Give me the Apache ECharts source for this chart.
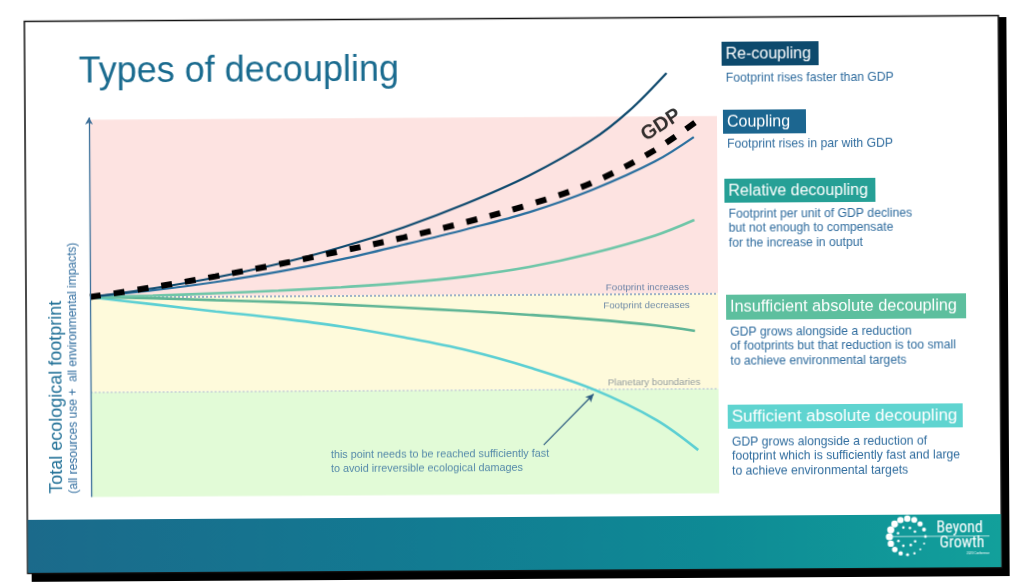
<!DOCTYPE html>
<html><head><meta charset="utf-8">
<script src="https://cdn.jsdelivr.net/npm/echarts@6/dist/echarts.min.js"></script>
<style>
html,body{margin:0;padding:0;background:#fff;overflow:hidden}
#c{width:1024px;height:587px;transform:rotate(-0.34deg);transform-origin:512px 293px;}
</style>
</head><body><div id="c"></div>
<script>
// ---- data (x: 0..100 along GDP/time axis, y: 0..100 footprint) ----
const recouplingX = [0,10,20,30,40,50,60,70,80,86,92];
const recouplingY = [53,55.2,58,61.5,65.8,71,77.2,84.5,93.8,101.5,111.5];
const gdpX = [0,10,20,30,40,50,60,70,80,90,96.8];
const gdpY = [53,55.5,58.3,61.4,64.8,68.3,72.3,76.8,82.5,91,98.7];
const couplingX = [0,10,20,30,40,50,60,70,80,90,96.3];
const couplingY = [53,54.7,56.8,59.4,62.6,66.4,70.4,74.8,80.6,88,94.5];
const relativeX = [0,10,20,30,40,50,60,70,80,90,96.3];
const relativeY = [53,53.3,53.8,54.4,55.2,56.3,57.9,60.3,63.8,68.4,72.5];
const insufficientX = [0,10,20,30,40,50,60,70,80,90,96.3];
const insufficientY = [53,52.6,52.0,51.4,50.6,49.7,48.7,47.6,46.3,44.6,43.1];
const sufficientX = [0,10,20,30,40,50,60,70,80,90,96.7];
const sufficientY = [53,51.0,49.0,47.1,44.8,41.8,38.3,33.6,27.8,19.6,11.5];

const footprintThreshold = 53;     // footprint increases / decreases
const planetaryBoundary = 27.8;    // planetary boundaries
const plotTop = 100;

const zoneLabels = ['Footprint increases','Footprint decreases','Planetary boundaries'];
const zoneLabelX = [95.4, 95.5, 97.1];
const zoneLabelY = [54.7, 49.9, 29.5];
const arrowFrom = [72.1, 13.1];
const arrowTo = [80.1, 26.5];
const noteText = 'this point needs to be reached sufficiently fast\nto avoid irreversible ecological damages';
const notePos = [38.2, 8.85];
const gdpLabelPos = [91.1, 97.7];

const panelTitles = ['Re-coupling','Coupling','Relative decoupling','Insufficient absolute decoupling','Sufficient absolute decoupling'];
const panelTexts = [
  ['Footprint rises faster than GDP'],
  ['Footprint rises in par with GDP'],
  ['Footprint per unit of GDP declines','but not enough to compensate','for the increase in output'],
  ['GDP grows alongside a reduction','of footprints but that reduction is too small','to achieve environmental targets'],
  ['GDP grows alongside a reduction of','footprint which is sufficiently fast and large','to achieve environmental targets']
];

// ---- styles / layout ----
const FONT = '"Liberation Sans", Arial, Helvetica, sans-serif';
const panelColors = ['#0d4a6d','#1c6690','#26a096','#5dbf9e','#5fd4d0'];
const panelBox = [
  {x:723,y:43,w:97,h:24,fs:16,ty:79.3},
  {x:724,y:111,w:83,h:24,fs:16,ty:145.3},
  {x:725,y:180,w:151,h:24,fs:16,ty:215.3},
  {x:726,y:296,w:240,h:25,fs:16.3,ty:333.3},
  {x:727,y:406,w:235,h:24,fs:17,ty:443.3}
];
const DESC = '#2f6c9e';

const pts = (xs, ys) => xs.map((x, i) => [x, ys[i]]);

const graphics = [];
// slide shadow + slide
graphics.push({type:'rect', shape:{x:1000,y:20,width:8,height:559}, style:{fill:'#000'}, z:0});
graphics.push({type:'rect', shape:{x:30,y:570,width:978,height:9}, style:{fill:'#000'}, z:0});
graphics.push({type:'rect', shape:{x:26,y:18.5,width:974,height:552}, style:{fill:'#fff', stroke:'#111', lineWidth:1.5}, z:0});
// footer band
graphics.push({type:'rect', shape:{x:26.5,y:517,width:973,height:53},
  style:{fill:new echarts.graphic.LinearGradient(0,0,1,0,[
    {offset:0,color:'#1b6a8b'},{offset:0.35,color:'#137891'},{offset:0.7,color:'#0e8a95'},{offset:1,color:'#12a09b'}])}, z:1});
// title
graphics.push({type:'text', x:80, y:70, style:{text:'Types of decoupling', fill:'#1a6b8f', font:'36px '+FONT, align:'left', verticalAlign:'middle'}, z:2});
// y axis title
graphics.push({type:'text', x:56, y:491, rotation:Math.PI/2, style:{text:'Total ecological footprint', fill:'#1f6f96', font:'18px '+FONT, align:'left', verticalAlign:'middle'}, z:2});
graphics.push({type:'text', x:73, y:491, rotation:Math.PI/2, style:{text:'(all resources use +  all environmental impacts)', fill:'#2f6c9e', font:'12px '+FONT, align:'left', verticalAlign:'middle'}, z:2});
// right panels
panelTitles.forEach((t, i) => {
  const b = panelBox[i];
  graphics.push({type:'rect', shape:{x:b.x,y:b.y,width:b.w,height:b.h}, style:{fill:panelColors[i]}, z:2});
  graphics.push({type:'text', x:b.x+4, y:b.y+b.h/2+0.5, style:{text:t, fill:'#fff', font:b.fs+'px '+FONT, align:'left', verticalAlign:'middle'}, z:3});
  graphics.push({type:'text', x:b.x+4, y:b.ty-7.4, style:{text:panelTexts[i].join('\n'), fill:DESC, font:'12.2px '+FONT, lineHeight:14.8, align:'left', verticalAlign:'top'}, z:3});
});
// logo
const logoCx = 906, logoCy = 539;
const dotR = [3.2,3.0,2.6,2.0,1.4,1.0,1.0,1.2,1.6,2.2,2.8,3.2,3.6,3.6,3.4,3.2];
dotR.forEach((r, i) => {
  const a = -Math.PI/2 + i * 2*Math.PI/dotR.length;
  graphics.push({type:'circle', shape:{cx:logoCx + 18*Math.cos(a), cy:logoCy + 18*Math.sin(a), r:r}, style:{fill:'#fff'}, z:3});
});
[[0.55,9],[1.2,9],[2.0,10],[2.7,10],[3.5,10],[4.3,10],[5.0,9],[5.7,9]].forEach(([a,rr]) => {
  graphics.push({type:'circle', shape:{cx:logoCx + rr*Math.cos(a), cy:logoCy + rr*Math.sin(a), r:1.3}, style:{fill:'#fff'}, z:3});
});
graphics.push({type:'rect', shape:{x:887,y:538.5,width:101,height:0.8}, style:{fill:'#e8f6f6'}, z:3});
graphics.push({type:'text', x:935, y:531, style:{text:'Beyond', fill:'#fff', font:'16px "Liberation Sans Narrow", "Roboto Condensed", '+FONT, align:'left', verticalAlign:'middle'}, z:3});
graphics.push({type:'text', x:938, y:546, style:{text:'Growth', fill:'#fff', font:'16px "Liberation Sans Narrow", "Roboto Condensed", '+FONT, align:'left', verticalAlign:'middle'}, z:3});
graphics.push({type:'text', x:988, y:556, style:{text:'2023 Conference', fill:'#fff', font:'3px '+FONT, align:'right', verticalAlign:'middle'}, z:3});

const lineSeries = (name, xs, ys, color, width, extra) => Object.assign({
  name, type:'line', data:pts(xs, ys), smooth:0.35, showSymbol:false, symbol:'none', clip:false,
  lineStyle:{color, width}, z:4, silent:true
}, extra || {});

const option = {
  backgroundColor:'transparent',
  animation:false,
  grid:{left:90, right:306, top:23, bottom:92.5},
  xAxis:{type:'value', min:0, max:100, show:false},
  yAxis:{type:'value', min:0, max:125, show:false},
  graphic:graphics,
  series:[
    {name:'zones', type:'line', data:[], silent:true, clip:false,
      markArea:{silent:true, z:1, data:[
        [{yAxis:footprintThreshold, itemStyle:{color:'#fde3e1'}},{yAxis:plotTop}],
        [{yAxis:planetaryBoundary, itemStyle:{color:'#fefadb'}},{yAxis:footprintThreshold}],
        [{yAxis:0, itemStyle:{color:'#e2fbd7'}},{yAxis:planetaryBoundary}]
      ]}},
    {name:'threshold', type:'line', data:[], silent:true, clip:false,
      markLine:{silent:true, symbol:'none', label:{show:false}, z:3,
        lineStyle:{type:[2,2], color:'#7d9ac0', width:1.5}, data:[{yAxis:footprintThreshold}]}},
    {name:'boundary', type:'line', data:[], silent:true, clip:false,
      markLine:{silent:true, symbol:'none', label:{show:false}, z:3,
        lineStyle:{type:[2,2], color:'#c9d0d6', width:1.5}, data:[{yAxis:planetaryBoundary}]}},
    {name:'axes', type:'line', data:[], silent:true, clip:false,
      markLine:{silent:true, symbol:['none','arrow'], symbolSize:[6,7], label:{show:false}, z:6,
        lineStyle:{type:'solid', color:'#3b6f99', width:1.3}, data:[
          [{coord:[0,0]},{coord:[0,plotTop+0.6]}],
          [{coord:[0,0]},{coord:[100.6,0]}]
        ]}},
    {name:'note arrow', type:'line', data:[], silent:true, clip:false,
      markLine:{silent:true, symbol:['none','arrow'], symbolSize:[6,8], label:{show:false}, z:6,
        lineStyle:{type:'solid', color:'#2b5a80', width:1.2}, data:[[{coord:arrowFrom},{coord:arrowTo}]]}},
    lineSeries('Sufficient absolute decoupling', sufficientX, sufficientY, '#5ccfd3', 2.6),
    lineSeries('Insufficient absolute decoupling', insufficientX, insufficientY, '#5fb596', 2.6),
    lineSeries('Relative decoupling', relativeX, relativeY, '#6fc6a8', 2.6),
    lineSeries('Coupling', couplingX, couplingY, '#2a6f9e', 2.2),
    lineSeries('Re-coupling', recouplingX, recouplingY, '#0f4a6e', 2.2),
    lineSeries('GDP', gdpX, gdpY, '#000', 6, {lineStyle:{color:'#000', width:6, type:[11,13], cap:'butt'}, z:5}),
    {name:'labels', type:'scatter', symbolSize:0, silent:true, clip:false, z:7,
      data:zoneLabels.map((t,i)=>({value:[zoneLabelX[i], zoneLabelY[i]],
        label:{show:true, formatter:t, position:'inside', align:'right', verticalAlign:'middle',
          color: i===2 ? '#7b8791' : '#4a6d99', fontSize:9.8, fontFamily:FONT}}))
        .concat([
          {value:notePos, label:{show:true, formatter:noteText, position:'inside', align:'left', verticalAlign:'middle',
            color:'#2f6c9e', fontSize:10.8, lineHeight:14, fontFamily:FONT}},
          {value:gdpLabelPos, label:{show:true, formatter:'GDP', position:'inside', align:'center', verticalAlign:'middle',
            rotate:32, color:'#000', fontSize:20, fontWeight:'bold', fontFamily:FONT}}
        ])}
  ]
};
const chart = echarts.init(document.getElementById('c'));
chart.setOption(option);
</script>
</body></html>
